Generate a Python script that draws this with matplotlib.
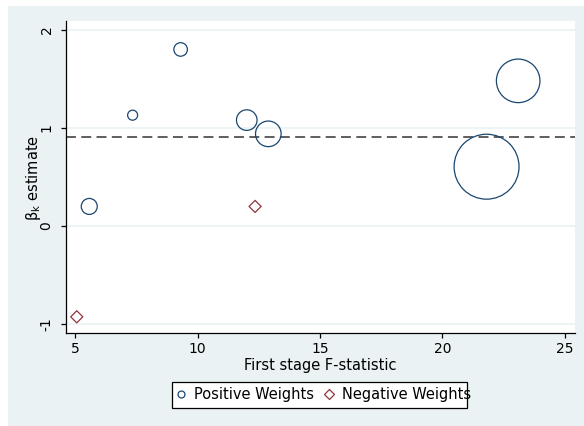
import matplotlib
matplotlib.use("Agg")
import matplotlib.pyplot as plt
from matplotlib.patches import Rectangle
from matplotlib.lines import Line2D

plt.rcParams["font.family"] = ["DejaVu Sans"]

# Data
pos_f = [5.58, 7.35, 9.31, 12.01, 12.89, 23.09, 21.80]
pos_beta = [0.20, 1.13, 1.80, 1.08, 0.94, 1.48, 0.605]
pos_weight = [64, 25, 46, 106, 164, 475, 1056]   # relative weights (bubble area)
neg_f = [12.35, 5.07]
neg_beta = [0.20, -0.925]
ref_beta = 0.911
xticks = [5, 10, 15, 20, 25]
yticks = [-1, 0, 1, 2]

NAVY = "#1A476F"
MAROON = "#90353B"
BG = "#EAF2F3"

W, H = 584, 426
fig = plt.figure(figsize=(W / 100, H / 100), dpi=100)
fig.patch.set_facecolor("white")
fig.patches.append(Rectangle((8 / W, 0), (W - 8) / W, (H - 6) / H,
                             transform=fig.transFigure, facecolor=BG,
                             edgecolor="none", zorder=-10))

ax = fig.add_axes([65.5 / W, (H - 333) / H, (575 - 65.5) / W, (333 - 21) / H])
ax.set_facecolor("white")

for y in yticks:
    ax.axhline(y, color=BG, lw=1.2, zorder=1)

ax.axhline(ref_beta, color="#333333", lw=1.1, linestyle=(0, (6.5, 3.5)), zorder=2)

sizes = [2.07 * w for w in pos_weight]
ax.scatter(pos_f, pos_beta, s=sizes, facecolors="none", edgecolors=NAVY,
           linewidths=0.9, zorder=3)
ax.scatter(neg_f, neg_beta, s=38, marker="D", facecolors="none",
           edgecolors=MAROON, linewidths=0.9, zorder=3)

ax.set_xlim(4.61, 25.41)
ax.set_ylim(-1.09, 2.09)
ax.set_xticks(xticks)
ax.set_yticks(yticks)
ax.set_yticklabels([str(t) for t in yticks], rotation=90, va="center")

for s in ["top", "right"]:
    ax.spines[s].set_visible(False)
for s in ["left", "bottom"]:
    ax.spines[s].set_color("black")
    ax.spines[s].set_linewidth(0.9)

ax.tick_params(axis="both", direction="out", length=3.6, width=0.9,
               labelsize=10, colors="black", pad=3)
ax.tick_params(axis="y", pad=5)

ax.set_xlabel("First stage F-statistic", fontsize=10.5, labelpad=1)
fig.text(33.5 / W, 1 - 177.5 / H, r"β$_\mathregular{k}$ estimate", fontsize=10.5,
         rotation=90, ha="center", va="center")

# Legend: frame drawn separately (as in the reference, text slightly overflows)
fig.patches.append(Rectangle((172 / W, 1 - 408 / H), (467 - 172) / W, 26 / H,
                             transform=fig.transFigure, facecolor="white",
                             edgecolor="black", linewidth=0.9, zorder=-5))
handles = [
    Line2D([], [], marker="o", linestyle="none", markersize=5,
           markerfacecolor="none", markeredgecolor=NAVY, markeredgewidth=0.9),
    Line2D([], [], marker="D", linestyle="none", markersize=5,
           markerfacecolor="none", markeredgecolor=MAROON, markeredgewidth=0.9),
]
leg = fig.legend(handles, ["Positive Weights", "Negative Weights"],
                 loc="center", bbox_to_anchor=(323 / W, 1 - 395 / H),
                 ncol=2, frameon=False, fontsize=10.5,
                 handlelength=0.8, handletextpad=0.5, columnspacing=0.63,
                 borderpad=0.35, borderaxespad=0)

fig.savefig("out.png", dpi=100)
